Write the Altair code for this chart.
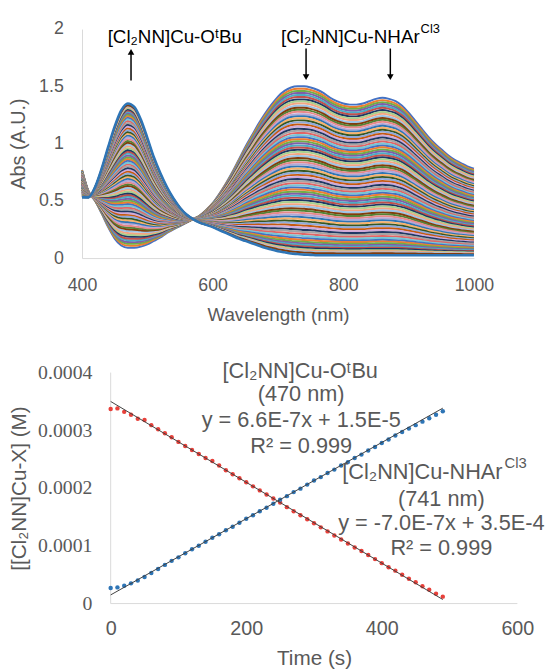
import altair as alt
import pandas as pd

# ---------------- data: UV-vis spectra (top panel) ----------------
wavelengths = list(range(400, 1001, 10))
# starting spectrum, [Cl2NN]Cu-NHAr(Cl3) (highest at 741 nm)
abs_start = [0.77, 0.58, 0.50, 0.39, 0.27, 0.17, 0.11, 0.09, 0.09, 0.10,
             0.12, 0.15, 0.18, 0.22, 0.25, 0.28, 0.31, 0.34, 0.37, 0.42,
             0.48, 0.56, 0.65, 0.75, 0.86, 0.97, 1.07, 1.17, 1.26, 1.34,
             1.41, 1.46, 1.49, 1.50, 1.50, 1.49, 1.47, 1.44, 1.40, 1.37,
             1.35, 1.34, 1.34, 1.35, 1.37, 1.39, 1.40, 1.39, 1.37, 1.33,
             1.27, 1.20, 1.13, 1.06, 1.00, 0.95, 0.90, 0.86, 0.83, 0.80,
             0.78]
# final spectrum, [Cl2NN]Cu-OtBu (thick blue trace, peak at 470 nm)
abs_end = [0.53, 0.53, 0.62, 0.78, 0.97, 1.15, 1.29, 1.35, 1.32, 1.21,
           1.05, 0.88, 0.74, 0.62, 0.52, 0.44, 0.38, 0.34, 0.31, 0.29,
           0.27, 0.245, 0.22, 0.195, 0.17, 0.15, 0.13, 0.11, 0.09, 0.075,
           0.06, 0.05, 0.04, 0.035, 0.03, 0.028, 0.025, 0.025, 0.025, 0.025,
           0.025, 0.025, 0.025, 0.025, 0.025, 0.025, 0.025, 0.025, 0.025, 0.025,
           0.025, 0.025, 0.025, 0.025, 0.025, 0.025, 0.025, 0.025, 0.025, 0.025,
           0.025]
# fraction of starting complex remaining in each recorded spectrum
remaining = [1.000, 0.985, 0.972, 0.960, 0.948, 0.936, 0.922, 0.910, 0.898, 0.884,
             0.872, 0.860, 0.848, 0.834, 0.822, 0.810, 0.797, 0.785, 0.772, 0.760,
             0.747, 0.735, 0.722, 0.710, 0.697, 0.685, 0.672, 0.660, 0.647, 0.635,
             0.622, 0.610, 0.597, 0.585, 0.572, 0.560, 0.547, 0.535, 0.522, 0.510,
             0.497, 0.485, 0.472, 0.460, 0.447, 0.435, 0.422, 0.410, 0.397, 0.385,
             0.372, 0.360, 0.347, 0.335, 0.322, 0.310, 0.297, 0.285, 0.272, 0.260,
             0.247, 0.235, 0.222, 0.210, 0.197, 0.185, 0.172, 0.160, 0.147, 0.135,
             0.122, 0.110, 0.098, 0.087, 0.076, 0.066, 0.057, 0.048, 0.040, 0.032,
             0.025, 0.018, 0.012]
palette = ["#4472C4", "#ED7D31", "#70AD47", "#7F5FA8", "#4BACC6", "#C0504D",
           "#1F3864", "#A9D18E", "#F4A582", "#9DC3E6", "#833C0C", "#548235",
           "#E8888A", "#B4A7D6", "#2E75B6", "#F7B26B", "#385723", "#8FAADC",
           "#C55A11", "#D0A9D9", "#203864", "#A5A5A5", "#E06666", "#76C6D6"]

arrow_wl = [475, 743, 872]
arrow_dir = ["up", "down", "down"]
arrow_tail = [1.55, 1.83, 1.83]
arrow_tip = [1.80, 1.58, 1.58]

# ---------------- data: kinetics (bottom panel) ----------------
times = list(range(0, 491, 10))
conc_otbu = [0.27, 0.28, 0.31, 0.35, 0.40, 0.46, 0.53, 0.60, 0.67, 0.74,
             0.80, 0.87, 0.94, 1.00, 1.07, 1.14, 1.20, 1.27, 1.33, 1.40,
             1.47, 1.53, 1.60, 1.66, 1.73, 1.80, 1.86, 1.93, 1.99, 2.06,
             2.13, 2.19, 2.26, 2.32, 2.39, 2.45, 2.52, 2.58, 2.65, 2.71,
             2.78, 2.84, 2.91, 2.97, 3.03, 3.09, 3.15, 3.21, 3.27, 3.33]
conc_nhar = [3.37, 3.38, 3.32, 3.27, 3.20, 3.18, 3.09, 3.02, 2.95, 2.88,
             2.80, 2.73, 2.66, 2.59, 2.52, 2.47, 2.39, 2.31, 2.24, 2.17,
             2.10, 2.03, 1.96, 1.89, 1.82, 1.75, 1.67, 1.60, 1.53, 1.46,
             1.39, 1.32, 1.25, 1.18, 1.11, 1.04, 0.97, 0.91, 0.84, 0.77,
             0.70, 0.63, 0.57, 0.50, 0.43, 0.37, 0.30, 0.24, 0.17, 0.12]
conc_unit = 1e-4
fit_slope = {"OtBu": 6.6e-7, "NHAr": -7.0e-7}
fit_intercept = {"OtBu": 1.5e-5, "NHAr": 3.5e-4}
time_ticks = [0, 200, 400, 600]
conc_ticks = [0, 0.0001, 0.0002, 0.0003, 0.0004]

# ---------------- tables ----------------
names = [f"s{i:03d}" for i in range(len(remaining))]
rows = []
for name, f in zip(names, remaining):
    for w, a0, a1 in zip(wavelengths, abs_start, abs_end):
        rows.append({"s": name, "wl": w, "abs": f * a0 + (1 - f) * a1})
spec_df = pd.DataFrame(rows)
final_df = pd.DataFrame({"wl": wavelengths, "abs": abs_end})
arrow_df = pd.DataFrame({"wl": arrow_wl, "dir": arrow_dir,
                         "tail": arrow_tail, "tip": arrow_tip})

otbu_df = pd.DataFrame({"t": times, "c": [v * conc_unit for v in conc_otbu]})
nhar_df = pd.DataFrame({"t": times, "c": [v * conc_unit for v in conc_nhar]})
fit_rows = []
for sp in ["OtBu", "NHAr"]:
    for t in [times[0], times[-1]]:
        fit_rows.append({"sp": sp, "t": t, "c": fit_slope[sp] * t + fit_intercept[sp]})
fit_df = pd.DataFrame(fit_rows)
base_df = pd.DataFrame({"t": [time_ticks[0]], "t2": [time_ticks[-1]], "c": [0.0]})
yline_df = pd.DataFrame({"t": [time_ticks[0]], "c": [conc_ticks[0]], "c2": [conc_ticks[-1]]})

FONT = "Liberation Sans"
GRAY = "#595959"
AXIS_GRAY = "#D9D9D9"

# ---------------- top panel ----------------
xs_top = alt.Scale(domain=[400, 1000], nice=False, zero=False)
ys_top = alt.Scale(domain=[0, 2], nice=False)
x_top_axis = alt.Axis(values=[400, 600, 800, 1000], format="d", title="Wavelength (nm)",
                      labelPadding=19, titlePadding=11, labelFontSize=18,
                      titleFontSize=19, labelFlush=False)
y_top_axis = alt.Axis(values=[0, 0.5, 1, 1.5, 2], format="~g", title="Abs (A.U.)",
                      labelPadding=19, titlePadding=10, labelFontSize=18,
                      titleFontSize=20, minExtent=44, maxExtent=44, labelFlush=False)

spectra = alt.Chart(spec_df).mark_line(strokeWidth=2, interpolate="monotone").encode(
    x=alt.X("wl:Q", scale=xs_top, axis=x_top_axis),
    y=alt.Y("abs:Q", scale=ys_top, axis=y_top_axis),
    color=alt.Color("s:N", scale=alt.Scale(domain=names,
                    range=[palette[i % len(palette)] for i in range(len(names))]),
                    legend=None),
)
final_line = alt.Chart(final_df).mark_line(strokeWidth=2.6, color="#2E75B6",
                                           interpolate="monotone").encode(
    x=alt.X("wl:Q", scale=xs_top), y=alt.Y("abs:Q", scale=ys_top))
arrow_shaft = alt.Chart(arrow_df).mark_rule(color="black", strokeWidth=1.5).encode(
    x=alt.X("wl:Q", scale=xs_top), y=alt.Y("tail:Q", scale=ys_top), y2="tip:Q")
arrow_head = alt.Chart(arrow_df).mark_point(filled=True, color="black", opacity=1,
                                            size=45).encode(
    x=alt.X("wl:Q", scale=xs_top), y=alt.Y("tip:Q", scale=ys_top),
    shape=alt.Shape("dir:N", scale=alt.Scale(domain=["up", "down"],
                    range=["triangle-up", "triangle-down"]), legend=None))


def label(text, x, y, size, color="black", align="center"):
    return alt.Chart(pd.DataFrame({"txt": [text]})).mark_text(
        font=FONT, fontSize=size, color=color, align=align, baseline="middle"
    ).encode(text="txt:N", x=alt.value(x), y=alt.value(y))


top = alt.layer(
    spectra, final_line, arrow_shaft, arrow_head,
    label("[Cl\u2082NN]Cu-O\u1d57Bu", 94, 8, 19),
    label("[Cl\u2082NN]Cu-NHAr", 342, 8, 19, align="right"),
    label("Cl3", 343, 0, 13, align="left"),
).properties(width=397, height=232)

# ---------------- bottom panel ----------------
# plot area starts 29 px left of t = 0 so the top panel can sit further left
SHIFT = 29
BW = 412
xs_bot = alt.Scale(domain=[-600 * SHIFT / BW, 600], nice=False, zero=False)
ys_bot = alt.Scale(domain=[0, 0.0004], nice=False)
x_bot_axis = alt.Axis(values=time_ticks, title="Time (s)", labelPadding=15, domain=False,
                      titlePadding=10, labelFontSize=20, titleFontSize=21,
                      labelFlush=False, titleX=SHIFT + BW / 2)
y_bot_axis = alt.Axis(values=conc_ticks,
                      labelExpr="datum.value == 0 ? '0' : format(datum.value, '.4f')",
                      title="[[Cl\u2082NN]Cu-X] (M)", labelFont="Liberation Serif",
                      labelFontSize=20, labelPadding=19, titlePadding=8,
                      titleFontSize=21, minExtent=74, maxExtent=74, offset=-SHIFT,
                      labelFlush=False, domain=False)

baseline = alt.Chart(base_df).mark_rule(color=AXIS_GRAY, strokeWidth=1).encode(
    x=alt.X("t:Q", scale=xs_bot, axis=x_bot_axis), x2="t2:Q",
    y=alt.Y("c:Q", scale=ys_bot, axis=y_bot_axis))
yline = alt.Chart(yline_df).mark_rule(color=AXIS_GRAY, strokeWidth=1).encode(
    x=alt.X("t:Q", scale=xs_bot), y=alt.Y("c:Q", scale=ys_bot), y2="c2:Q")
pts_nhar = alt.Chart(nhar_df).mark_point(filled=True, size=20, opacity=1,
                                         color="#E8403A").encode(
    x=alt.X("t:Q", scale=xs_bot), y=alt.Y("c:Q", scale=ys_bot))
pts_otbu = alt.Chart(otbu_df).mark_point(filled=True, size=20, opacity=1,
                                         color="#2E75B6").encode(
    x=alt.X("t:Q", scale=xs_bot), y=alt.Y("c:Q", scale=ys_bot))
fits = alt.Chart(fit_df).mark_line(color="#404040", strokeWidth=1).encode(
    x=alt.X("t:Q", scale=xs_bot), y=alt.Y("c:Q", scale=ys_bot), detail="sp:N")

bottom = alt.layer(
    baseline, yline, pts_nhar, pts_otbu, fits,
    label("[Cl\u2082NN]Cu-O\u1d57Bu", 192 + SHIFT, -2, 22, GRAY),
    label("(470 nm)", 193 + SHIFT, 22, 22, GRAY),
    label("y = 6.6E-7x + 1.5E-5", 193 + SHIFT, 48, 22, GRAY),
    label("R\u00b2 = 0.999", 193 + SHIFT, 74, 22, GRAY),
    label("[Cl\u2082NN]Cu-NHAr", 397 + SHIFT, 101, 22, GRAY, align="right"),
    label("Cl3", 399 + SHIFT, 92, 15, GRAY, align="left"),
    label("(741 nm)", 335 + SHIFT, 128, 22, GRAY),
    label("y = -7.0E-7x + 3.5E-4", 335 + SHIFT, 152, 22, GRAY),
    label("R\u00b2 = 0.999", 335 + SHIFT, 178, 22, GRAY),
).properties(width=BW + SHIFT, height=234)

chart = alt.concat(top, bottom, columns=1, spacing=36).resolve_scale(
    color="independent", shape="independent"
).properties(
    padding={"left": 1, "top": 8, "right": 0, "bottom": 0}
).configure_view(stroke=None).configure_axis(
    domainColor=AXIS_GRAY, domainWidth=1, ticks=False, tickSize=0, grid=False,
    labelColor=GRAY, titleColor=GRAY, labelFont=FONT, titleFont=FONT,
    titleFontWeight="normal",
)

chart.save("out.html", embed_options={"renderer": "svg", "actions": False})
